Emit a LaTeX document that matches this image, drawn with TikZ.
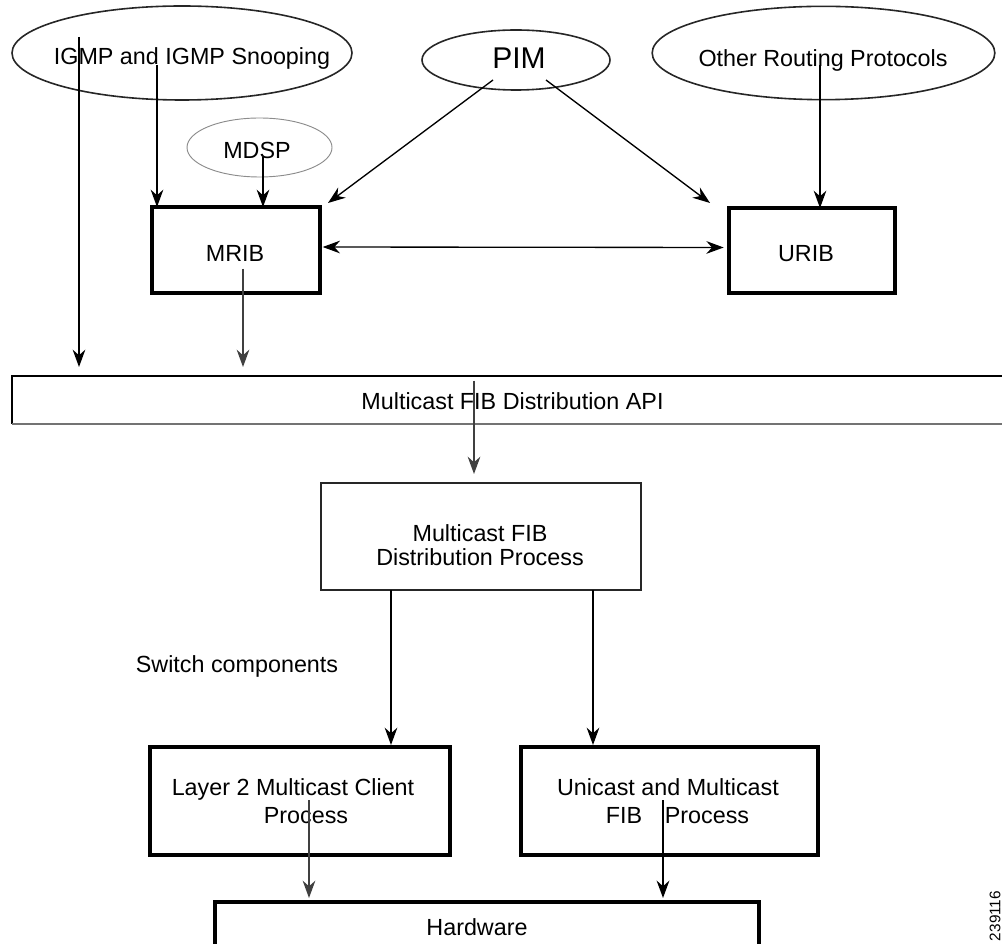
\documentclass[tikz,border=0pt]{standalone}
\usepackage{fontspec}
\setmainfont{Liberation Sans}
\usetikzlibrary{arrows.meta,shapes.geometric,calc}

\begin{document}
\begin{tikzpicture}[x=0.75pt,y=-0.75pt,
  every node/.style={inner sep=0pt, outer sep=0pt},
  lbl/.style={font=\fontsize{17.5}{21}\selectfont, anchor=base},
  big/.style={font=\fontsize{22.5}{26}\selectfont, anchor=base},
  oval/.style={ellipse, draw=black!85, line width=1.2pt},
  softoval/.style={ellipse, draw=black!45, line width=0.7pt},
  thickbox/.style={rectangle, draw, line width=2.8pt},
  thinbox/.style={rectangle, draw=black!85, line width=1pt},
  tip/.style={Stealth[length=13pt,width=9.5pt]},
  link/.style={-{Stealth[length=13pt,width=9.5pt]}, line width=1pt},
  greylink/.style={link, draw=black!75, fill=black!75},
  boldlink/.style={-{Stealth[length=13pt,width=9.5pt]}, line width=1.7pt},
  twoway/.style={{Stealth[length=13pt,width=9.5pt]}-{Stealth[length=13pt,width=9.5pt]}, line width=1pt},
]
\useasboundingbox (0,0) rectangle (1002,944);

% --- routing protocol sources ---
\node[oval, minimum width=255pt, minimum height=70.5pt] (igmp) at (182,53) {};
\node[lbl] (igmptxt) at (192,65) {IGMP and IGMP Snooping};

\node[oval, minimum width=141pt, minimum height=45pt] (pim) at (516,60) {};
\node[big] (pimtxt) at (519,69) {PIM};

\node[oval, minimum width=257pt, minimum height=70pt] (other) at (823.5,53) {};
\node[lbl] (othertxt) at (823,67) {Other Routing Protocols};

\node[softoval, minimum width=108.75pt, minimum height=44.25pt] (mdsp) at (259.5,147.5) {};
\node[lbl] (mdsptxt) at (257,159) {MDSP};

% --- routing information bases ---
\node[thickbox, minimum width=126pt, minimum height=64.5pt] (mrib) at (236,250) {};
\node[lbl] (mribtxt) at (235,262) {MRIB};

\node[thickbox, minimum width=124.5pt, minimum height=63.75pt] (urib) at (812,250.5) {};
\node[lbl] (uribtxt) at (806,262) {URIB};

% --- distribution API bar (open on the right) ---
\node[minimum width=756pt, minimum height=36pt] (api) at (516,400) {};
\draw[line width=1.6pt] (1010,376) -- (12,376) -- (12,424);
\draw[black!55, line width=2.2pt] (12,424) -- (1010,424);
\node[lbl] (apitxt) at (512.5,410) {Multicast FIB Distribution API};

% --- distribution process ---
\node[thinbox, minimum width=240pt, minimum height=80.25pt] (proc) at (481,536.5) {};
\node[lbl] (proctxtA) at (480,541) {Multicast FIB};
\node[lbl] (proctxtB) at (480,565) {Distribution Process};

\node[lbl] (switchtxt) at (237,672) {Switch components};

% --- switch components ---
\node[thickbox, minimum width=225pt, minimum height=81pt] (l2) at (300,801) {};
\node[lbl] (l2txtA) at (293,795) {Layer 2 Multicast Client};
\node[lbl] (l2txtB) at (306,823) {Process};

\node[thickbox, minimum width=222.75pt, minimum height=81pt] (ufib) at (669.5,801) {};
\node[lbl] (ufibtxtA) at (668,795) {Unicast and Multicast};
\node[lbl] (ufibtxtB) at (677.5,823) {FIB\hspace{17pt}Process};

% --- hardware (runs past the lower edge) ---
\node[thickbox, minimum width=408pt, minimum height=45pt] (hw) at (487,932) {};
\node[lbl] (hwtxt) at (477,935) {Hardware};

\node[rotate=90, anchor=east, font=\fontsize{11.5}{12}\selectfont] (figid) at (995,891) {239116};

% --- connector start points ---
\coordinate (igmpA) at (79,37);
\coordinate (igmpB) at (157,65);
\coordinate (mdspA) at (263,157);
\coordinate (mribA) at (243,269);
\coordinate (pimL) at (493,80);
\coordinate (pimR) at (546,80);
\coordinate (otherA) at (820,65);
\coordinate (apiA) at (474,381);
\coordinate (procL) at (391,590);
\coordinate (procR) at (593,590);
\coordinate (l2A) at (309,800);
\coordinate (ufibA) at (663,800);

% --- connectors ---
\draw[link, shorten >=6.75pt] (igmpA) -- (igmpA |- api.north);
\draw[link] (igmpB) -- (igmpB |- mrib.north);
\draw[link] (mdspA) -- (mdspA |- mrib.north);
\draw[greylink, shorten >=6.75pt] (mribA) -- (mribA |- api.north);
\draw[link] (pimL) -- ($(mrib.north east)+(8,-4)$);
\draw[link] (pimR) -- ($(urib.north west)+(-19,-5)$);
\draw[twoway, shorten <=2pt, shorten >=4pt] ([yshift=2.25pt]mrib.east) -- ([yshift=2.25pt]urib.west);
\draw[link] (otherA) -- (otherA |- urib.north);
\draw[greylink, shorten >=6.75pt] (apiA) -- (apiA |- proc.north);
\draw[link, shorten >=1.5pt] (procL) -- (procL |- l2.north);
\draw[link, shorten >=1.5pt] (procR) -- (procR |- ufib.north);
\draw[greylink, shorten >=3pt] (l2A) -- (l2A |- hw.north);
\draw[boldlink, shorten >=3pt] (ufibA) -- (ufibA |- hw.north);
\end{tikzpicture}
\end{document}
